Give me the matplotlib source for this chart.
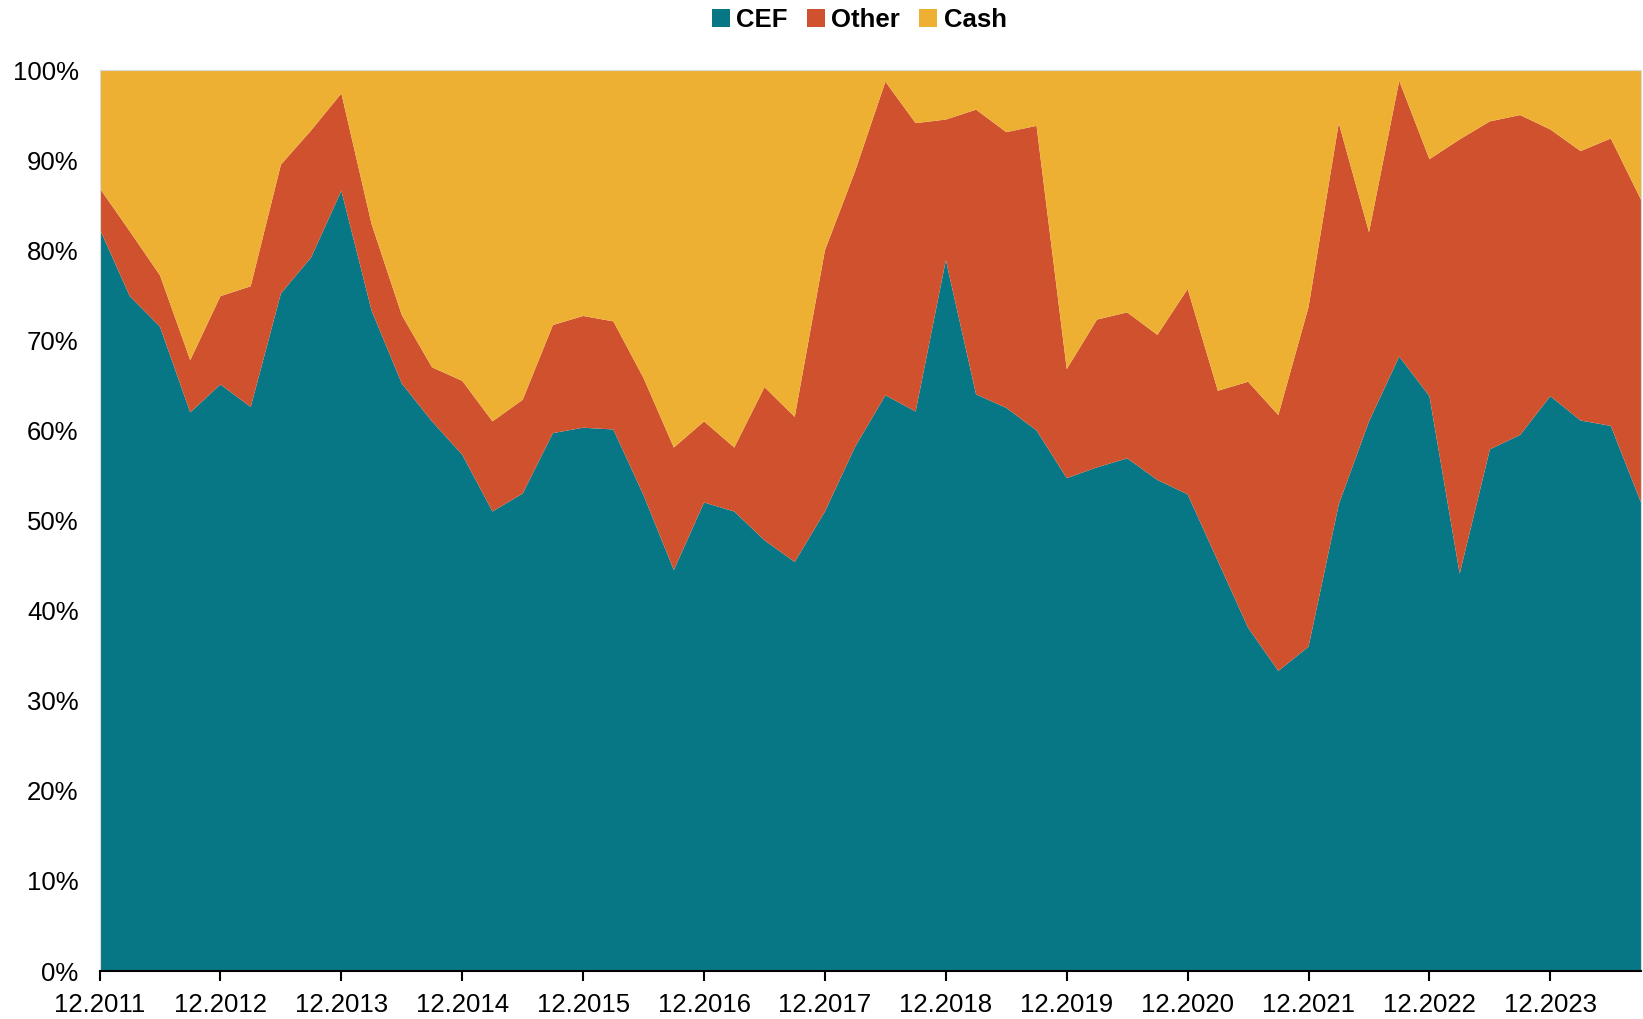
import numpy as np
import pandas as pd
import matplotlib
matplotlib.use("Agg")
import matplotlib.pyplot as plt
from matplotlib.patches import Patch
from matplotlib.ticker import FuncFormatter

# quarterly, 12.2011 .. 09.2024
quarters = pd.period_range("2011Q4", "2024Q3", freq="Q")

cef = [82.4, 74.9, 71.5, 62.0, 65.1, 62.6, 75.2, 79.2, 86.6, 73.3,
       65.2, 61.0, 57.3, 51.0, 53.0, 59.7, 60.3, 60.1, 52.8, 44.5,
       52.0, 51.0, 47.8, 45.4, 51.0, 58.2, 63.9, 62.1, 78.9, 64.0,
       62.5, 60.0, 54.7, 55.9, 56.9, 54.5, 52.9, 45.5, 38.1, 33.3,
       36.0, 51.8, 61.0, 68.2, 63.8, 44.1, 57.9, 59.5, 63.8, 61.1,
       60.5, 52.0]
other = [4.5, 7.2, 5.7, 5.8, 9.8, 13.4, 14.3, 14.1, 10.8, 9.6,
         7.6, 6.0, 8.2, 10.0, 10.4, 12.0, 12.4, 12.0, 13.0, 13.6,
         9.0, 7.1, 17.0, 16.1, 29.0, 30.6, 34.8, 32.0, 15.6, 31.6,
         30.6, 33.8, 12.1, 16.4, 16.2, 16.1, 22.8, 18.9, 27.3, 28.4,
         37.7, 42.3, 21.0, 30.6, 26.3, 48.2, 36.4, 35.5, 29.6, 29.9,
         31.9, 33.6]
cash = [13.1, 17.9, 22.8, 32.2, 25.1, 24.0, 10.5, 6.7, 2.6, 17.1,
        27.2, 33.0, 34.5, 39.0, 36.6, 28.3, 27.3, 27.9, 34.2, 41.9,
        39.0, 41.9, 35.2, 38.5, 20.0, 11.2, 1.3, 5.9, 5.5, 4.4,
        6.9, 6.2, 33.2, 27.7, 26.9, 29.4, 24.3, 35.6, 34.6, 38.3,
        26.3, 5.9, 18.0, 1.2, 9.9, 7.7, 5.7, 5.0, 6.6, 9.0,
        7.6, 14.4]

labels = ["CEF", "Other", "Cash"]
colors = ["#077785", "#D0512D", "#EEB033"]

plt.rcParams['font.family'] = ['Liberation Sans', 'DejaVu Sans']

fig = plt.figure(figsize=(16.43, 10.19), dpi=100)
ax = fig.add_axes([0.0606, 0.0471, 0.9382, 0.8842])

x = np.arange(len(quarters))
ax.stackplot(x, cef, other, cash, colors=colors, linewidth=0)

ax.set_xlim(0, len(quarters) - 1)
ax.set_ylim(0, 100)

# year ticks at each December
tick_idx = [i for i, q in enumerate(quarters) if q.quarter == 4]
ax.set_xticks(tick_idx)
ax.set_xticklabels([f"12.{quarters[i].year}" for i in tick_idx])
ax.set_yticks(np.arange(0, 101, 10))
ax.yaxis.set_major_formatter(FuncFormatter(lambda v, p: f"{int(v)}%"))

ax.tick_params(axis='x', direction='out', length=7, width=1.5,
               labelsize=18.5, pad=9, color='black')
ax.tick_params(axis='y', length=0, labelsize=18.5, pad=15)

for s in ["left", "top", "right"]:
    ax.spines[s].set_color("#d9d9d9")
    ax.spines[s].set_linewidth(0.8)
ax.spines["bottom"].set_color("black")
ax.spines["bottom"].set_linewidth(1.5)

handles = [Patch(facecolor=c, edgecolor='none') for c in colors]
fig.legend(handles, labels, loc='upper center', bbox_to_anchor=(0.523, 1.015),
           ncol=3, frameon=False, handlelength=0.7, handleheight=0.7,
           handletextpad=0.25, columnspacing=0.75,
           prop={'weight': 'bold', 'size': 18.5})

fig.savefig("out.png", dpi=100)
